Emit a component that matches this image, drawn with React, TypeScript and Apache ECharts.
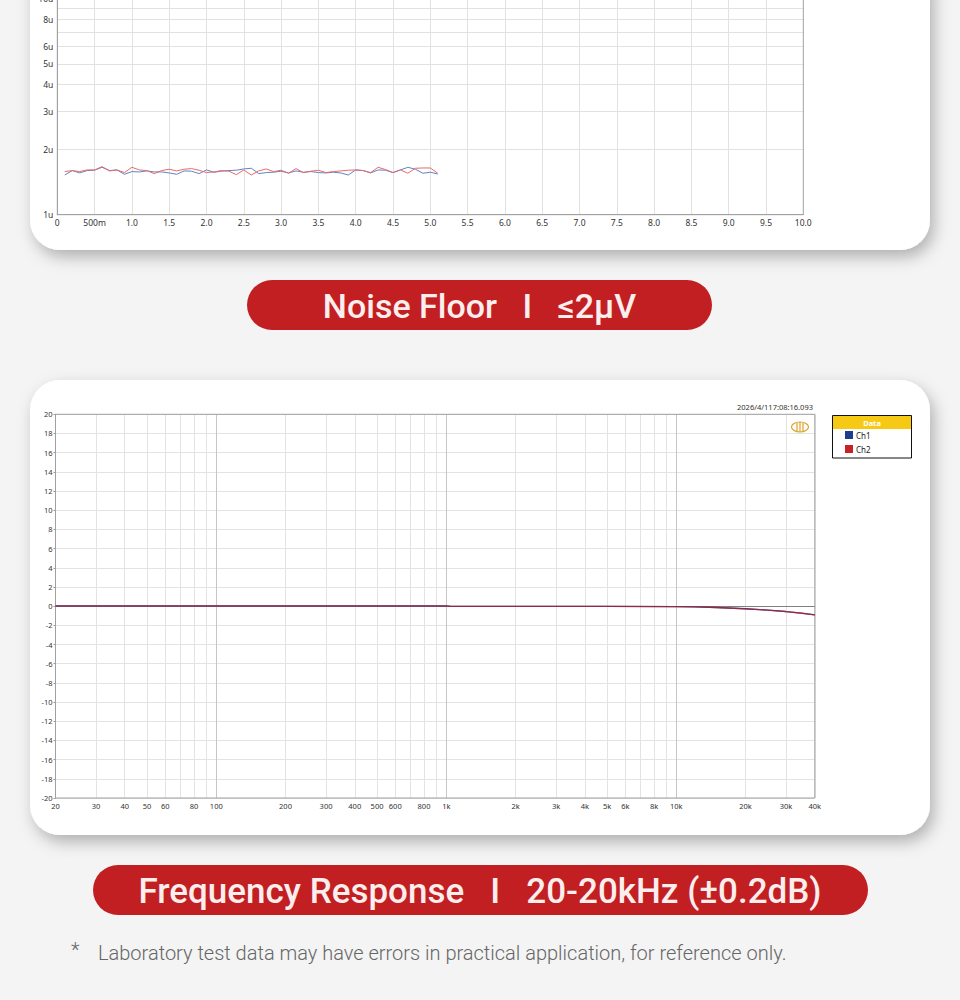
import React, { useEffect, useRef } from 'react';
import * as echarts from 'echarts';

// ---------- Noise floor (top chart) ----------
const noiseX = [0.1, 0.2, 0.3, 0.4, 0.5, 0.6, 0.7, 0.8, 0.9, 1.0, 1.1, 1.2, 1.3, 1.4, 1.5, 1.6, 1.7, 1.8, 1.9, 2.0, 2.1, 2.2, 2.3, 2.4, 2.5, 2.6, 2.7, 2.8, 2.9, 3.0, 3.1, 3.2, 3.3, 3.4, 3.5, 3.6, 3.7, 3.8, 3.9, 4.0, 4.1, 4.2, 4.3, 4.4, 4.5, 4.6, 4.7, 4.8, 4.9, 5.0, 5.1];
// µV
const noiseCh1 = [1.527, 1.601, 1.561, 1.601, 1.607, 1.658, 1.601, 1.612, 1.539, 1.584, 1.578, 1.595, 1.578, 1.578, 1.561, 1.539, 1.595, 1.590, 1.550, 1.612, 1.573, 1.590, 1.601, 1.607, 1.629, 1.641, 1.550, 1.567, 1.573, 1.590, 1.561, 1.595, 1.573, 1.584, 1.567, 1.561, 1.573, 1.561, 1.527, 1.612, 1.601, 1.561, 1.612, 1.607, 1.567, 1.612, 1.658, 1.624, 1.556, 1.573, 1.544];
const noiseCh2 = [1.584, 1.601, 1.584, 1.612, 1.612, 1.669, 1.595, 1.612, 1.567, 1.658, 1.612, 1.601, 1.550, 1.601, 1.624, 1.595, 1.624, 1.635, 1.607, 1.567, 1.578, 1.601, 1.590, 1.533, 1.612, 1.527, 1.595, 1.629, 1.584, 1.607, 1.556, 1.635, 1.567, 1.590, 1.607, 1.567, 1.584, 1.595, 1.607, 1.612, 1.601, 1.567, 1.658, 1.618, 1.567, 1.612, 1.556, 1.641, 1.646, 1.646, 1.556];
const noiseYGrid = [1, 2, 3, 4, 5, 6, 7, 8, 9, 10];
const noiseYLabels = [1, 2, 3, 4, 5, 6, 8, 10];

// ---------- Frequency response (bottom chart) ----------
const frFreq = [20, 50, 100, 200, 500, 1000, 1050, 2000, 5000, 10000, 12000, 15000, 20000, 25000, 30000, 35000, 40000];
const frCh1 = [0.03, 0.03, 0.03, 0.03, 0.03, 0.03, -0.02, -0.02, -0.03, -0.05, -0.08, -0.14, -0.27, -0.41, -0.56, -0.73, -0.9];
const frCh2 = [0.03, 0.03, 0.03, 0.03, 0.03, 0.03, -0.02, -0.02, -0.03, -0.05, -0.08, -0.14, -0.28, -0.42, -0.57, -0.74, -0.91];
const frXGrid = [20, 30, 40, 50, 60, 70, 80, 90, 100, 200, 300, 400, 500, 600, 700, 800, 900, 1000, 2000, 3000, 4000, 5000, 6000, 7000, 8000, 9000, 10000, 20000, 30000, 40000];
const frXLabels = [20, 30, 40, 50, 60, 80, 100, 200, 300, 400, 500, 600, 800, 1000, 2000, 3000, 4000, 5000, 6000, 8000, 10000, 20000, 30000, 40000];
const frXMajor = [100, 1000, 10000];

const TICK_FONT = 'Noto Sans';

export default function App() {
  const ref = useRef<HTMLDivElement>(null);

  useEffect(() => {
    if (!ref.current) return;
    const chart = echarts.init(ref.current, null, { renderer: 'svg' });

    const fmtFreq = (v: number) => (v >= 1000 ? `${Math.round(v / 1000)}k` : `${Math.round(v)}`);
    const fmtNoiseX = (v: number) => (v === 0 ? '0' : Math.abs(v - 0.5) < 1e-9 ? '500m' : v.toFixed(1));

    const cardShadow = {
      shadowBlur: 16,
      shadowColor: 'rgba(0,0,0,0.28)',
      shadowOffsetX: 4,
      shadowOffsetY: 7,
    };

    const option: any = {
      animation: false,
      backgroundColor: '#f4f4f4',
      textStyle: { fontFamily: TICK_FONT },
      grid: [
        { left: 57.3, top: -1.2, width: 746, height: 215.9, show: true, borderColor: '#a8a8a8', borderWidth: 1, z: 1, containLabel: false, outerBoundsMode: 'none' },
        { left: 55.5, top: 414.3, width: 759.3, height: 383.7, show: true, borderColor: '#a0a0a0', borderWidth: 1, z: 1, containLabel: false, outerBoundsMode: 'none' },
      ],
      xAxis: [
        {
          type: 'value', gridIndex: 0, min: 0, max: 10, interval: 0.5,
          axisLine: { show: true, lineStyle: { color: '#888' } },
          axisTick: { show: false },
          axisLabel: { fontSize: 8.5, color: '#333', margin: 3, formatter: fmtNoiseX, showMinLabel: true, showMaxLabel: true, hideOverlap: false },
          splitLine: { show: true, lineStyle: { color: '#e2e2e2', width: 1 } },
        },
        {
          type: 'log', gridIndex: 1, min: 20, max: 40000, logBase: 10,
          axisLine: { show: true, lineStyle: { color: '#808080' } },
          axisTick: { show: false, customValues: frXGrid },
          axisLabel: { fontSize: 7.5, color: '#333', margin: 4, customValues: frXLabels, formatter: fmtFreq, hideOverlap: false },
          splitLine: { show: true, lineStyle: { color: '#e3e3e3', width: 1 } },
        },
        {
          type: 'log', gridIndex: 1, min: 20, max: 40000, logBase: 10,
          axisLine: { show: false },
          axisTick: { show: false, customValues: frXMajor },
          axisLabel: { show: false },
          splitLine: { show: true, lineStyle: { color: '#c6c6c6', width: 1 } },
        },
      ],
      yAxis: [
        {
          type: 'log', gridIndex: 0, min: 1, max: 10, logBase: 10,
          axisLine: { show: true, lineStyle: { color: '#888' } },
          axisTick: { show: false, customValues: noiseYGrid },
          axisLabel: { fontSize: 8.5, color: '#333', margin: 4, customValues: noiseYLabels, formatter: (v: number) => `${Math.round(v)}u`, hideOverlap: false },
          splitLine: { show: true, lineStyle: { color: '#e2e2e2', width: 1 } },
        },
        {
          type: 'value', gridIndex: 1, min: -20, max: 20, interval: 2,
          axisLine: { show: true, lineStyle: { color: '#808080' } },
          axisTick: { show: true, length: 2, lineStyle: { color: '#999' } },
          axisLabel: { fontSize: 7.5, color: '#333', margin: 3, showMinLabel: true, showMaxLabel: true },
          splitLine: { show: true, lineStyle: { color: '#e3e3e3', width: 1 } },
        },
      ],
      legend: {
        data: ['Ch1', 'Ch2'],
        orient: 'vertical',
        left: 845,
        top: 431,
        icon: 'rect',
        itemWidth: 8,
        itemHeight: 8,
        itemGap: 6,
        padding: 0,
        textStyle: { fontSize: 8, color: '#222', fontFamily: TICK_FONT, padding: [0, 0, 0, -2] },
        selectedMode: false,
      },
      series: [
        {
          name: 'Noise Ch1', type: 'line', xAxisIndex: 0, yAxisIndex: 0, symbol: 'none',
          lineStyle: { color: '#6582c2', width: 1 }, itemStyle: { color: '#6582c2' },
          data: noiseX.map((x, i) => [x, noiseCh1[i]]), z: 3,
        },
        {
          name: 'Noise Ch2', type: 'line', xAxisIndex: 0, yAxisIndex: 0, symbol: 'none',
          lineStyle: { color: '#e56b6b', width: 1 }, itemStyle: { color: '#e56b6b' },
          data: noiseX.map((x, i) => [x, noiseCh2[i]]), z: 3,
        },
        {
          name: 'Ch1', type: 'line', xAxisIndex: 1, yAxisIndex: 1, symbol: 'none',
          lineStyle: { color: '#1f3c8e', width: 1.3 }, itemStyle: { color: '#1f3c8e' },
          data: frFreq.map((f, i) => [f, frCh1[i]]), z: 3,
        },
        {
          name: 'Ch2', type: 'line', xAxisIndex: 1, yAxisIndex: 1, symbol: 'none',
          lineStyle: { color: '#c82026', width: 1.3, opacity: 0.7 }, itemStyle: { color: '#c82026' },
          data: frFreq.map((f, i) => [f, frCh2[i]]), z: 4,
        },
      ],
      graphic: [
        // cards
        { type: 'rect', z: -10, shape: { x: 30, y: -40, width: 900, height: 290, r: 30 }, style: { fill: '#ffffff', ...cardShadow } },
        { type: 'rect', z: -10, shape: { x: 30, y: 380, width: 900, height: 455, r: 30 }, style: { fill: '#ffffff', ...cardShadow } },
        // title pills
        { type: 'rect', z: 10, shape: { x: 247, y: 280, width: 465, height: 50, r: 25 }, style: { fill: '#c21f23' } },
        {
          type: 'text', z: 11, x: 479.5, y: 306,
          style: { text: 'Noise Floor   I   ≤2µV', fill: '#fdeeee', fontSize: 34, fontWeight: 500, fontFamily: 'Roboto', align: 'center', verticalAlign: 'middle' },
        },
        { type: 'rect', z: 10, shape: { x: 93, y: 865, width: 775, height: 50, r: 25 }, style: { fill: '#c21f23' } },
        {
          type: 'text', z: 11, x: 480, y: 891,
          style: { text: 'Frequency Response   I   20-20kHz (±0.2dB)', fill: '#fdeeee', fontSize: 35, fontWeight: 500, fontFamily: 'Roboto', align: 'center', verticalAlign: 'middle' },
        },
        // footnote
        { type: 'text', z: 11, x: 71, y: 950, style: { text: '*', fill: '#666', fontSize: 20, fontFamily: 'Roboto', fontWeight: 300, verticalAlign: 'middle' } },
        {
          type: 'text', z: 11, x: 98, y: 953,
          style: { text: 'Laboratory test data may have errors in practical application, for reference only.', fill: '#666', fontSize: 20, fontFamily: 'Roboto', fontWeight: 300, verticalAlign: 'middle' },
        },
        // timestamp
        { type: 'text', z: 11, x: 813, y: 407, style: { text: '2026/4/117:08:16.093', fill: '#333', fontSize: 7.5, fontFamily: TICK_FONT, align: 'right', verticalAlign: 'middle' } },
        // logo
        {
          type: 'group', z: 11,
          children: [
            { type: 'ellipse', shape: { cx: 800, cy: 427, rx: 8.5, ry: 5 }, style: { fill: 'none', stroke: '#e0a028', lineWidth: 1.2 } },
            { type: 'line', shape: { x1: 797, y1: 423, x2: 797, y2: 431 }, style: { stroke: '#e0a028', lineWidth: 1.2 } },
            { type: 'line', shape: { x1: 800, y1: 422, x2: 800, y2: 432 }, style: { stroke: '#e0a028', lineWidth: 1.2 } },
            { type: 'line', shape: { x1: 803, y1: 423, x2: 803, y2: 431 }, style: { stroke: '#e0a028', lineWidth: 1.2 } },
          ],
        },
        // legend box
        { type: 'rect', z: 3, shape: { x: 832.5, y: 415.5, width: 79, height: 42.5 }, style: { fill: '#ffffff', stroke: '#111', lineWidth: 1 } },
        { type: 'rect', z: 3, shape: { x: 833, y: 416, width: 78, height: 13 }, style: { fill: '#f6c915' } },
        { type: 'text', z: 4, x: 872, y: 422.5, style: { text: 'Data', fill: '#ffffff', fontSize: 7.5, fontWeight: 'bold', fontFamily: TICK_FONT, align: 'center', verticalAlign: 'middle' } },
      ],
    };

    chart.setOption(option);
    return () => chart.dispose();
  }, []);

  return <div ref={ref} style={{ position: 'absolute', left: 0, top: 0, width: 960, height: 1000 }} />;
}
